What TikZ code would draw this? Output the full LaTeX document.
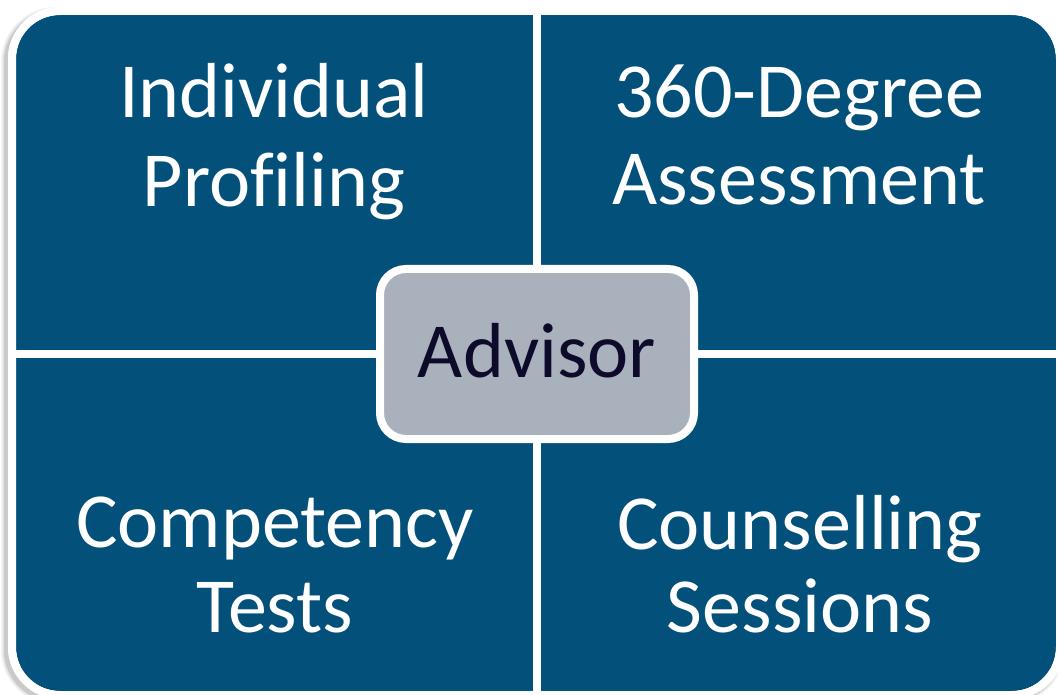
\documentclass[tikz,border=0pt]{standalone}
\usepackage{fontspec}
\setmainfont{Carlito}[Ligatures=NoCommon]
\usepackage{tikz}
\usetikzlibrary{shadows}
\definecolor{quadblue}{HTML}{03517A}
\definecolor{advgray}{HTML}{A9B1BD}
\definecolor{advtext}{HTML}{0E0B2A}
\tikzset{
    quadfill/.style={fill=quadblue},
    quadtext/.style={anchor=base, text=white, inner sep=0pt,
        font=\fontsize{78}{90}\selectfont},
    divider/.style={draw=white, line width=8pt},
    frame/.style={draw=white, line width=8pt, rounded corners=48pt},
    advisor/.style={draw=white, line width=8pt, fill=advgray, rounded corners=26pt,
        minimum width=314pt, minimum height=170pt, inner sep=0pt,
        text height=50pt, text depth=4pt, text=advtext,
        font=\fontsize{78}{90}\selectfont,
        drop shadow={shadow xshift=2pt, shadow yshift=-3pt, opacity=.35}},
}
\begin{document}
\begin{tikzpicture}[x=1pt, y=-1pt]
	\useasboundingbox (0,0) rectangle (1058,695);
	% soft shadow round the frame
	\foreach \w/\o in {14/.05, 11/.07, 8/.1}
		\draw[black, opacity=\o, line width=\w pt, rounded corners=48pt] (8,14) rectangle (1057,698);
	\fill[white, rounded corners=52pt] (8,7) rectangle (1064,699);
	\begin{scope}
		\clip[rounded corners=44pt] (16,15) rectangle (1056,691);
		\foreach \xa/\xb in {16/537, 537/1056}
			\foreach \ya/\yb in {15/353.5, 353.5/691}
				\fill[quadfill] (\xa,\ya) rectangle (\xb,\yb);
	\end{scope}
	\draw[divider] (537,7) -- (537,699);
	\draw[divider] (8,353.5) -- (1064,353.5);
	\draw[frame] (12,11) rectangle (1060,695);
	% quadrant texts
	\node[quadtext] (indiv) at (274,118) {Individual};
	\node[quadtext] (profil) at (274,207) {Profiling};
	\node[quadtext] (degree) at (799,118) {360-Degree};
	\node[quadtext] (assess) at (799,205) {Assessment};
	\node[quadtext] (compet) at (275,547) {Competency};
	\node[quadtext] (tests) at (275,632) {Tests};
	\node[quadtext] (counsel) at (800,549) {Counselling};
	\node[quadtext] (session) at (800,632) {Sessions};
	% centre
	\node[advisor] (adv) at (537,354) {Advisor};
\end{tikzpicture}
\end{document}
